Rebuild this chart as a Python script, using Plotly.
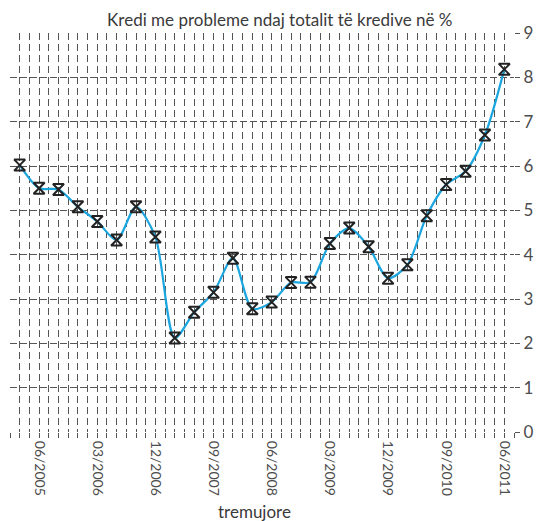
import plotly.graph_objects as go

quarters = ["03/2005", "06/2005", "09/2005", "12/2005",
            "03/2006", "06/2006", "09/2006", "12/2006",
            "03/2007", "06/2007", "09/2007", "12/2007",
            "03/2008", "06/2008", "09/2008", "12/2008",
            "03/2009", "06/2009", "09/2009", "12/2009",
            "03/2010", "06/2010", "09/2010", "12/2010",
            "03/2011", "06/2011"]
npl_ratio = [6.02, 5.5, 5.47, 5.08, 4.75, 4.33, 5.08, 4.4,
             2.12, 2.7, 3.15, 3.92, 2.78, 2.93, 3.37, 3.38,
             4.25, 4.6, 4.18, 3.47, 3.77, 4.88, 5.58, 5.88,
             6.7, 8.18]
y_ticks = list(range(0, 10))

x_idx = list(range(len(quarters)))
label_step = 3
label_start = 1

# gridline positions every half quarter, labels on selected quarters
grid_vals = [-0.5 + 0.5 * k for k in range(2 * len(quarters) + 1)]
grid_text = []
for v in grid_vals:
    if v == int(v) and int(v) >= label_start and (int(v) - label_start) % label_step == 0:
        grid_text.append(quarters[int(v)])
    else:
        grid_text.append("")

font_family = "Lato, 'Open Sans', sans-serif"
text_color = "#3a3a3a"
label_color = "#4d4d4d"
grid_color = "#555555"

fig = go.Figure()
fig.add_trace(go.Scatter(
    x=x_idx, y=npl_ratio, mode="lines+markers",
    line=dict(color="#1ba6e0", width=2.2, shape="spline", smoothing=0.8),
    marker=dict(symbol="hourglass-open", size=11, color="#222222",
                line=dict(color="#222222", width=2)),
    showlegend=False, hoverinfo="skip",
))

fig.update_layout(
    width=537, height=521,
    margin=dict(l=10, r=23, t=33, b=89, autoexpand=False),
    paper_bgcolor="white", plot_bgcolor="white",
    font=dict(family=font_family, color=text_color),
    title=dict(text="Kredi me probleme ndaj totalit të kredive në %",
               x=0.521, xref="container", xanchor="center",
               y=0.962, yref="container", yanchor="middle",
               font=dict(size=17, color=text_color, family=font_family)),
    xaxis=dict(
        range=[-0.5, len(quarters) - 0.5], automargin=False,
        tickmode="array", tickvals=grid_vals, ticktext=grid_text,
        tickangle=90, tickfont=dict(size=14, color=label_color),
        ticks="outside", ticklen=5, tickcolor=grid_color, tickwidth=1,
        showgrid=True, gridcolor=grid_color, gridwidth=1, griddash="7px,4px",
        zeroline=False, showline=False, fixedrange=True,
    ),
    yaxis=dict(
        range=[0, 9], side="right", automargin=False,
        tickmode="array", tickvals=y_ticks,
        tickfont=dict(size=17, color=label_color),
        ticks="outside", ticklen=5, tickcolor=grid_color,
        showgrid=True, gridcolor=grid_color, gridwidth=1, griddash="7px,3px",
        zeroline=False, showline=False, fixedrange=True,
    ),
    annotations=[dict(text="tremujore", xref="paper", yref="paper",
                      x=0.486, y=-0.2, xanchor="center", yanchor="middle",
                      showarrow=False, font=dict(size=17, color=text_color))],
)

fig.write_html("out.html",
               config={"displayModeBar": False, "staticPlot": True},
               post_script="document.body.style.margin='0';document.body.style.overflow='hidden';")
